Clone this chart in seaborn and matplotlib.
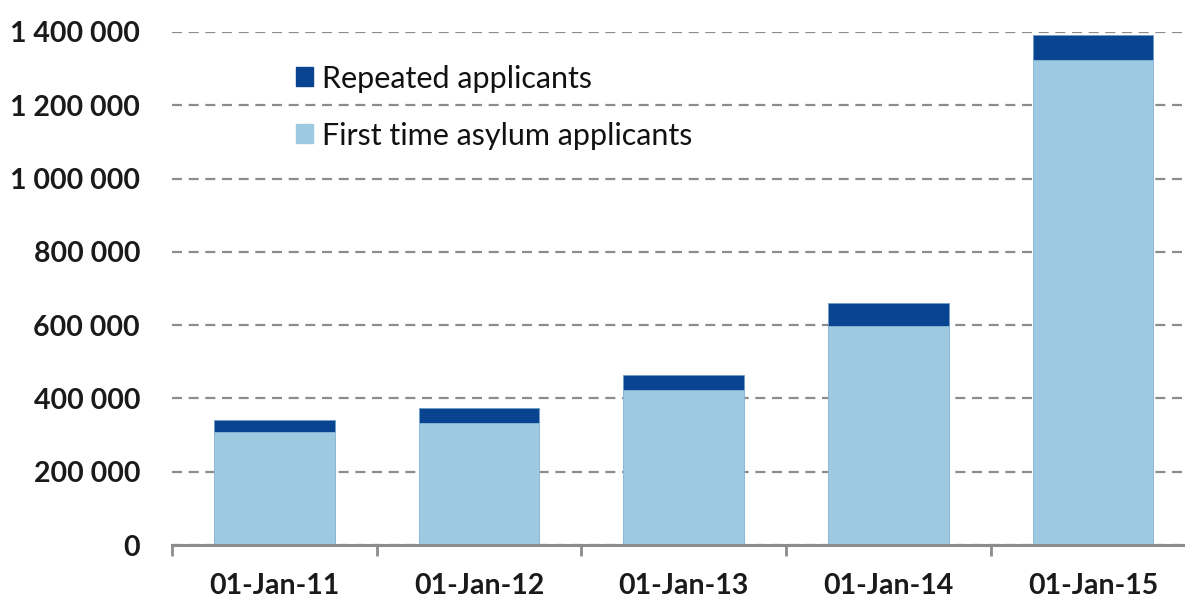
import matplotlib.pyplot as plt
import matplotlib.patches as mpatches
import numpy as np
import pandas as pd
import seaborn as sns

dates = ["01-Jan-11", "01-Jan-12", "01-Jan-13", "01-Jan-14", "01-Jan-15"]
first_time = [309000, 334000, 422000, 598000, 1324000]
repeated = [33000, 40000, 42000, 63000, 69000]

DARK = "#08448F"
LIGHT = "#9ECAE1"
GRID = "#8C8C8C"

sns.set_theme(style="white")
plt.rcParams["font.family"] = ["Lato", "DejaVu Sans"]

df = pd.DataFrame({
    "date": dates,
    "first": first_time,
    "total": np.array(first_time) + np.array(repeated),
})

fig = plt.figure(figsize=(11.85, 5.99), dpi=100)
ax = fig.add_axes([172 / 1185, 1 - 545 / 599, 1 - 172 / 1185, (545 - 32) / 599])

sns.barplot(data=df, x="date", y="total", color=DARK, width=0.59,
            saturation=1, ax=ax, zorder=2, edgecolor="#6E9CC8", linewidth=0.6)
sns.barplot(data=df, x="date", y="first", color=LIGHT, width=0.59,
            saturation=1, ax=ax, zorder=3, edgecolor="#8DB8D8", linewidth=0.6)

yt = np.arange(0, 1400001, 200000)
ax.set_yticks(yt)
ax.set_yticklabels([f"{v:,}".replace(",", " ") for v in yt],
                   fontsize=20.5, fontweight="bold", color="#1a1a1a")
ax.yaxis.grid(True, linestyle=(0, (4.5, 3)), color=GRID, linewidth=1.6, zorder=0)
ax.set_axisbelow(True)
ax.tick_params(axis="y", length=0, pad=23)

ax.set_xticks(range(len(dates)))
ax.set_xticklabels(dates, fontsize=20.5, fontweight="bold", color="#1a1a1a")
ax.set_xticks(np.arange(-0.5, len(dates), 1.0), minor=True)
ax.tick_params(axis="x", which="major", length=0, pad=20)
ax.tick_params(axis="x", which="minor", length=8, width=2, color=GRID,
               direction="out", bottom=True)

# limits after ticks, since set_xticks widens the view
ax.set_ylim(0, 1400000)
ax.set_xlim(-0.5, 4.45)

ax.set_xlabel("")
ax.set_ylabel("")
for s in ["top", "right", "left"]:
    ax.spines[s].set_visible(False)
ax.spines["bottom"].set_color(GRID)
ax.spines["bottom"].set_linewidth(2.2)
ax.spines["bottom"].set_zorder(4)

handles = [
    mpatches.Patch(color=DARK, label="Repeated applicants"),
    mpatches.Patch(color=LIGHT, label="First time asylum applicants"),
]
leg = fig.legend(handles=handles, loc="upper left",
                 bbox_to_anchor=(268 / 1185, 1 - 37 / 599),
                 frameon=False, fontsize=22, handlelength=0.58,
                 handleheight=0.58, handletextpad=0.28, labelspacing=0.95)
for t in leg.get_texts():
    t.set_color("#111111")

fig.savefig("out.png", dpi=100)
